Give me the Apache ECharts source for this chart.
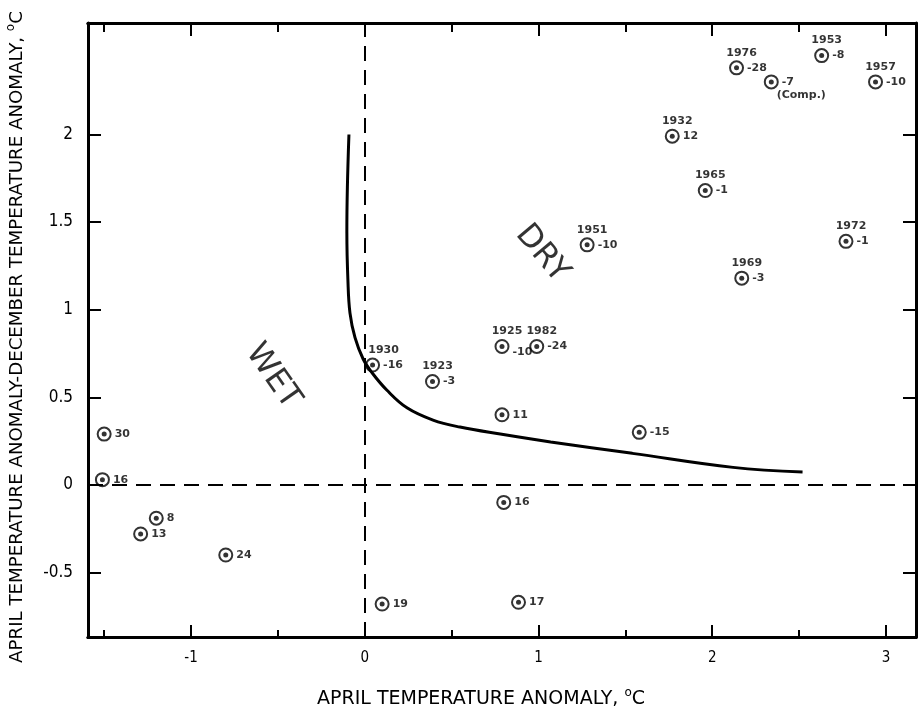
<!DOCTYPE html>
<html>
<head>
<meta charset="utf-8">
<script src="https://cdn.jsdelivr.net/npm/echarts@6/dist/echarts.min.js"></script>
<style>
  html, body { margin: 0; padding: 0; background: #fff; }
  #chart { width: 919px; height: 713px; }
</style>
</head>
<body>
<div id="chart"></div>
<script>
// axis ranges
const X_MIN = -1.593, X_MAX = 3.173;
const Y_MIN = -0.868, Y_MAX = 2.636;

const xLabels = [-1, 0, 1, 2, 3];
const xMajorTicks = [-1, 0, 1, 2, 3];
const xMinorTicks = [-1.5, -0.5, 0.5, 1.5, 2.5];
const yLabels = [-0.5, 0, 0.5, 1, 1.5, 2];

// points: april anomaly, april-december anomaly, year, number beside the mark
const pointX = [2.14, 2.34, 2.63, 2.94, 1.77, 1.96, 1.28, 2.77, 2.17, 0.045, 0.39, 0.79, 0.99, 0.79, 1.58, -1.50, -1.51, -1.20, -1.29, -0.80, 0.10, 0.80, 0.885];
const pointY = [2.38, 2.30, 2.45, 2.30, 1.99, 1.68, 1.37, 1.39, 1.18, 0.684, 0.59, 0.79, 0.79, 0.40, 0.30, 0.29, 0.03, -0.19, -0.28, -0.40, -0.68, -0.10, -0.67];
const pointYear = ["1976", "(Comp.)", "1953", "1957", "1932", "1965", "1951", "1972", "1969", "1930", "1923", "1925", "1982", "", "", "", "", "", "", "", "", "", ""];
const pointNum = ["-28", "-7", "-8", "-10", "12", "-1", "-10", "-1", "-3", "-16", "-3", "-10", "-24", "11", "-15", "30", "16", "8", "13", "24", "19", "16", "17"];

// wet / dry boundary
const curveX = [-0.091, -0.100, -0.103, -0.097, -0.085, -0.056, -0.010, 0.042, 0.128, 0.243, 0.393, 0.548, 0.78, 1.07, 1.54, 2.12, 2.52];
const curveY = [2.00, 1.70, 1.44, 1.17, 0.98, 0.84, 0.72, 0.64, 0.54, 0.44, 0.37, 0.33, 0.29, 0.245, 0.18, 0.10, 0.074];

const regionNames = ["WET", "DRY"];
const regionX = [-0.53, 1.02];
const regionY = [0.62, 1.32];
const regionAngle = [-55, -50];

const FONT = "'DejaVu Sans Condensed', 'Liberation Sans Narrow', 'DejaVu Sans', sans-serif";
const TITLE_FONT = "'DejaVu Sans', sans-serif";
const LBL = "'DejaVu Sans', sans-serif";

const chart = echarts.init(document.getElementById("chart"));

function xAxisDef(pos, ticks, len, labels) {
  return {
    type: "value", position: pos, min: X_MIN, max: X_MAX,
    axisLine: { show: true, onZero: false, lineStyle: { color: "#000", width: 3 } },
    axisTick: { show: true, inside: true, length: len, customValues: ticks, lineStyle: { color: "#000", width: 2 } },
    axisLabel: labels ? { show: true, customValues: labels, margin: 14, color: "#000", fontSize: 15, fontFamily: FONT } : { show: false },
    splitLine: { show: false }
  };
}

function yAxisDef(pos, labels) {
  return {
    type: "value", position: pos, min: Y_MIN, max: Y_MAX,
    axisLine: { show: true, onZero: false, lineStyle: { color: "#000", width: 3 } },
    axisTick: { show: true, inside: true, length: 13, customValues: yLabels, lineStyle: { color: "#000", width: 2 } },
    axisLabel: labels ? { show: true, customValues: yLabels, margin: 15, color: "#000", fontSize: 17, fontFamily: FONT,
      formatter: v => (v < 0 ? "-" + Math.abs(v) : String(v)) } : { show: false },
    splitLine: { show: false }
  };
}

const points = pointX.map((x, i) => [x, pointY[i]]);
const numData = points.map((p, i) => {
  const d = { value: p, name: pointNum[i] };
  if (pointYear[i] === "1925") d.label = { offset: [0, 6] };
  return d;
});
const yearData = points.map((p, i) => {
  const d = { value: p, name: pointYear[i] };
  if (pointYear[i] === "(Comp.)") d.label = { position: "bottom", distance: 5, offset: [30, 0] };
  if (pointYear[i] === "1930") d.label = { offset: [11, 0] };
  return d;
});

const xA = xAxisDef("bottom", xMajorTicks, 12, xLabels);
xA.name = "APRIL TEMPERATURE ANOMALY, {s|o}C";
xA.nameLocation = "middle";
xA.nameGap = 50;
xA.nameTextStyle = { color: "#000", fontSize: 19, fontFamily: TITLE_FONT, padding: [0, 42, 0, 0],
  rich: { s: { fontSize: 12, fontFamily: TITLE_FONT, color: "#000", padding: [0, 0, 13, 0] } } };

const yA = yAxisDef("left", true);
yA.name = "APRIL TEMPERATURE ANOMALY-DECEMBER TEMPERATURE ANOMALY, {s|o}C";
yA.nameLocation = "middle";
yA.nameGap = 58;
yA.nameTextStyle = { color: "#000", fontSize: 18.2, fontFamily: TITLE_FONT, padding: [0, 14, 0, 0],
  rich: { s: { fontSize: 12, fontFamily: TITLE_FONT, color: "#000", padding: [0, 0, 13, 0] } } };

chart.setOption({
  animation: false,
  backgroundColor: "#fff",
  grid: { left: 88, right: 3, top: 23, bottom: 76, show: false, containLabel: false, outerBoundsMode: "none" },
  xAxis: [
    xA,
    xAxisDef("bottom", xMinorTicks, 7, null),
    xAxisDef("top", xMajorTicks, 13, null),
    xAxisDef("top", xMinorTicks, 9, null)
  ],
  yAxis: [yA, yAxisDef("right", false)],
  series: [
    {
      type: "line", xAxisIndex: 0, yAxisIndex: 0, smooth: 0.4, symbol: "none", z: 1,
      data: curveX.map((x, i) => [x, curveY[i]]),
      lineStyle: { color: "#000", width: 3 },
      markLine: {
        silent: true, symbol: "none", label: { show: false },
        lineStyle: { color: "#000", width: 2, type: [15, 9] },
        data: [{ xAxis: 0 }, { yAxis: 0 }]
      }
    },
    {
      type: "scatter", xAxisIndex: 0, yAxisIndex: 0, z: 3,
      symbol: "circle", symbolSize: 13, data: numData,
      itemStyle: { color: "rgba(255,255,255,0)", borderColor: "#000", borderWidth: 2 },
      label: { show: true, position: "right", distance: 3, formatter: p => p.name,
        color: "#000", fontSize: 11, fontWeight: "bold", fontFamily: LBL }
    },
    {
      type: "scatter", xAxisIndex: 0, yAxisIndex: 0, z: 4,
      symbol: "circle", symbolSize: 5, data: yearData,
      itemStyle: { color: "#000" },
      label: { show: true, position: "top", distance: 7, offset: [5, 0], formatter: p => p.name,
        color: "#000", fontSize: 11, fontWeight: "bold", fontFamily: LBL }
    },
    {
      type: "scatter", xAxisIndex: 0, yAxisIndex: 0, z: 2, symbolSize: 0,
      data: regionNames.map((n, i) => ({ value: [regionX[i], regionY[i]], name: n, label: { rotate: regionAngle[i] } })),
      label: { show: true, position: "inside", formatter: p => p.name,
        color: "#000", fontSize: 32, fontFamily: "'DejaVu Sans', sans-serif" }
    }
  ]
});
</script>
</body>
</html>
